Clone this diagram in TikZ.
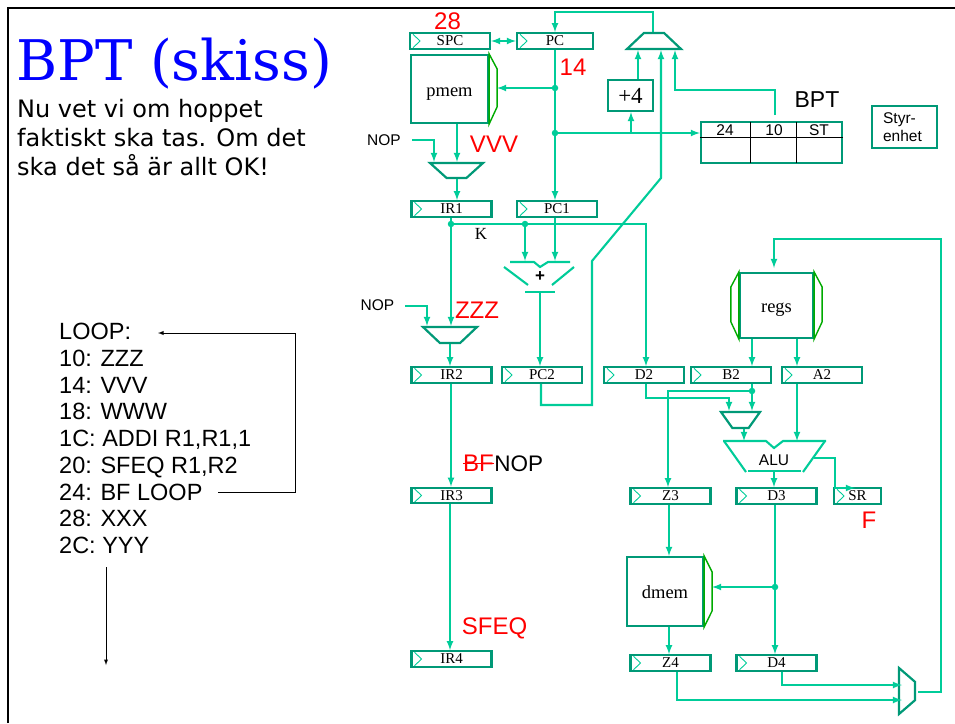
\documentclass[tikz,border=0pt]{standalone}
\usepackage{fontspec}
\setmainfont{Liberation Sans}
\newfontfamily\titlefont{DejaVu Serif}
\newfontfamily\notefont{DejaVu Sans}
\newfontfamily\regfont{Liberation Serif}
\usetikzlibrary{arrows,calc,positioning,shapes.geometric}
\definecolor{wirecol}{RGB}{0,204,153}
\definecolor{boxcol}{RGB}{0,153,119}
\definecolor{memcol}{RGB}{0,170,0}
\tikzset{%
	reg/.style      = {draw=boxcol, line width=2.2pt, rectangle, minimum width=80pt, minimum height=15.5pt, inner sep=0pt, font=\regfont\fontsize{15}{15}\selectfont,
		path picture={\draw[wirecol,line width=0.9pt] ($(path picture bounding box.north west)+(3,1)$) -- ($(path picture bounding box.west)+(10,0)$) -- ($(path picture bounding box.south west)+(3,-1)$);}}, % Register
	mem/.style      = {draw=boxcol, line width=2.2pt, rectangle, inner sep=0pt, text height=14pt, text depth=0pt, font=\regfont\fontsize{18.5}{18.5}\selectfont}, % Memory
	memedge/.style  = {draw=memcol, line width=1.4pt}, % Port
	mux/.style      = {draw=boxcol, line width=2.2pt, trapezium, trapezium stretches=true, inner sep=1pt},
	box/.style      = {draw=boxcol, line width=2.2pt, rectangle, inner sep=0pt},
	wire/.style     = {draw=wirecol, line width=2.1pt},
	arrow/.style    = {wire,-latex},
	dot/.style      = {circle, fill=wirecol, inner sep=0pt, minimum size=6.5pt},
	waypoint/.style = {coordinate},
	lbl/.style      = {inner sep=0pt, font=\fontsize{15.5}{17}\selectfont},
	redlbl/.style   = {inner sep=0pt, text=red, font=\fontsize{24}{24}\selectfont},
}
\begin{document}
\begin{tikzpicture}[x=1pt,y=-1pt]
	\useasboundingbox (0,0) rectangle (955,723);
	\draw[line width=1.8pt] (8,723) -- (8,8) -- (955,8);
	% text on the left
	\node[anchor=base west,inner sep=0pt,text=blue,font=\titlefont\fontsize{56}{56}\selectfont] (title) at (16,80) {BPT (skiss)};
	\node[anchor=north west,inner sep=0pt,align=left,font=\notefont\fontsize{24}{29}\selectfont] (note) at (17,99) {Nu vet vi om hoppet\\faktiskt ska tas. Om det\\ska det så är allt OK!};
	\node[anchor=north west,inner sep=0pt,align=left,font=\fontsize{23.5}{26.75}\selectfont] (code) at (59,323) {LOOP:\\10: ZZZ\\14: VVV\\18: WWW\\1C: ADDI R1,R1,1\\20: SFEQ R1,R2\\24: BF LOOP\\28: XXX\\2C: YYY};
	\node[waypoint] (loopto) at (158,333) {};
	\node[waypoint] (loopfrom) at (218,492) {};
	\node[waypoint] (loopcor) at (295,333) {};
	\node[waypoint] (seqfrom) at (106,567) {};
	\node[waypoint] (seqto) at (106,665) {};
	\draw[-latex,line width=0.9pt] (loopfrom) -| (loopcor) -- (loopto);
	\draw[-latex,line width=0.9pt] (seqfrom) -- (seqto);
	% registers
	\node[reg] (spc) at (450,41) {SPC};
	\node[reg,minimum width=76pt,right of=spc,node distance=105pt] (pc) {PC};
	\node[reg] (ir1) at (451.5,209) {IR1};
	\node[reg,right of=ir1,node distance=105.5pt] (pc1) {PC1};
	\node[reg,below of=ir1,node distance=166pt] (ir2) {IR2};
	\node[reg,right of=ir2,node distance=90.5pt] (pc2) {PC2};
	\node[reg,right of=pc2,node distance=102pt] (d2) {D2};
	\node[reg,right of=d2,node distance=87pt] (b2) {B2};
	\node[reg,right of=b2,node distance=91pt] (a2) {A2};
	\node[reg,below of=ir2,node distance=120.5pt] (ir3) {IR3};
	\node[reg,below of=ir3,node distance=163.5pt] (ir4) {IR4};
	\node[reg] (z3) at (670.5,496) {Z3};
	\node[reg,right of=z3,node distance=106pt] (d3) {D3};
	\node[reg,minimum width=47pt,right of=d3,node distance=81pt] (sr) {SR};
	\node[reg] (z4) at (670.5,663) {Z4};
	\node[reg,right of=z4,node distance=106pt] (d4) {D4};
	% memories
	\node[mem,minimum width=77pt,minimum height=68pt] (pmem) at (449.5,89) {pmem};
	\node[mem,minimum width=73pt,minimum height=65pt] (regs) at (776.5,305.5) {regs};
	\node[mem,minimum width=76pt,minimum height=69pt] (dmem) at (665,591.5) {dmem};
	\draw[memedge] (pmem.north east) -- ++(8,15) -- ++(0,38) -- (pmem.south east) -- cycle;
	\draw[memedge] (regs.north east) -- ++(8,15) -- ++(0,35) -- (regs.south east) -- cycle;
	\draw[memedge] (regs.north west) -- ++(-8,15) -- ++(0,35) -- (regs.south west) -- cycle;
	\draw[memedge] (dmem.north east) -- ++(8,16) -- ++(0,39) -- (dmem.south east) -- cycle;
	\coordinate (pmemport) at ($(pmem.east)+(8,0)$);
	\coordinate (dmemport) at ($(dmem.east)+(8,0)$);
	% muxes
	\node[mux,shape border rotate=180,trapezium left angle=50,trapezium right angle=50,minimum width=53pt,minimum height=15pt] (mux1) at (456.5,170.5) {};
	\node[mux,shape border rotate=180,trapezium left angle=50,trapezium right angle=50,minimum width=54pt,minimum height=16pt] (mux2) at (450,335) {};
	\node[mux,shape border rotate=180,trapezium left angle=55,trapezium right angle=55,minimum width=39pt,minimum height=16pt] (mux3) at (740.5,420) {};
	\node[mux,trapezium left angle=50,trapezium right angle=50,minimum width=54pt,minimum height=16pt] (mux0) at (654,41) {};
	\node[mux,shape border rotate=270,trapezium left angle=53,trapezium right angle=53,minimum width=46pt,minimum height=16pt] (mux4) at (907,691) {};
	% adder and alu
	\node[inner sep=0pt,font=\bfseries\fontsize{17}{17}\selectfont] (adder) at (540,277) {+};
	\draw[wire] ($(adder)+(-30,-15)$) -- ($(adder)+(-6,-15)$) -- ($(adder)+(0,-10)$) -- ($(adder)+(8,-15)$) -- ($(adder)+(30,-15)$);
	\draw[wire] ($(adder)+(-36,-10)$) -- ($(adder)+(-12,8)$);
	\draw[wire] ($(adder)+(34,-10)$) -- ($(adder)+(12,8)$);
	\draw[wire] ($(adder)+(-15,15)$) -- ($(adder)+(15,15)$);
	\node[inner sep=0pt,font=\fontsize{15.5}{15.5}\selectfont] (alu) at (774,460) {ALU};
	\draw[wire] ($(alu)+(-51,-19)$) -- ($(alu)+(-8,-19)$) -- ($(alu)+(0,-12)$) -- ($(alu)+(9,-19)$) -- ($(alu)+(52,-19)$);
	\draw[wire] ($(alu)+(-50,-19)$) -- ($(alu)+(-28,12)$);
	\draw[wire] ($(alu)+(51,-19)$) -- ($(alu)+(29,12)$);
	\draw[wire] ($(alu)+(-26,11)$) -- ($(alu)+(27,11)$);
	% small boxes
	\node[box,minimum width=45pt,minimum height=31pt,font=\regfont\fontsize{23}{23}\selectfont] (plus4) at (630.5,95.5) {+4};
	\node[box,minimum width=65pt,minimum height=42pt,align=left,font=\fontsize{15.5}{18.5}\selectfont] (styr) at (904.5,127) {Styr-\\enhet\hspace*{4pt}};
	\node[box,minimum width=141pt,minimum height=41pt] (bpt) at (771.5,142.5) {};
	\draw[line width=0.9pt] (bpt.west |- 0,137) -- (bpt.east |- 0,137);
	\draw[line width=0.9pt] (750,122) -- (750,163);
	\draw[line width=0.9pt] (796,122) -- (796,163);
	\node[lbl] (bpt24) at (725,130) {24};
	\node[lbl] (bpt10) at (774,130) {10};
	\node[lbl] (bptst) at (819,130) {ST};
	\node[lbl,font=\fontsize{23}{23}\selectfont] (bptname) at (817,100) {BPT};
	% junctions
	\node[dot] (j1) at (555,88) {};
	\node[dot] (j2) at (555,133) {};
	\node[dot] (j3) at (451,224) {};
	\node[dot] (j4) at (525,224) {};
	\node[dot] (j5) at (752,391) {};
	\node[dot] (j6) at (775,587) {};
	% upper wires
	\node[waypoint] (top1) at (653,12) {};
	\draw[arrow] (mux0.north -| top1) -- (top1) -| (pc.north);
	\draw[latex-latex,wire] (spc.east) -- (pc.west);
	\draw[wire] (pc.south) -- (j1);
	\draw[wire] (j1) -- (j2);
	\draw[arrow] (j2) -- (j2 |- pc1.north);
	\draw[arrow] (j1) -- (j1 -| pmemport);
	\draw[arrow] (j2) -- (j2 -| bpt.west);
	\draw[arrow] (j2 -| 631,0) -- (631,0 |- plus4.south);
	\draw[arrow] (638,0 |- plus4.north) -- (638,0 |- mux0.south);
	\node[waypoint] (btbout) at (775,115) {};
	\node[waypoint] (btbcor) at (675,90) {};
	\draw[arrow] (btbout) |- (btbcor) -- (btbcor |- mux0.south);
	\node[lbl,anchor=center] (nop1) at (384,140) {NOP};
	\node[waypoint] (nop1in) at (412,140) {};
	\draw[arrow] (nop1in) -| (434,0 |- mux1.north);
	\draw[arrow] (457,0 |- pmem.south) -- (457,0 |- mux1.north);
	\draw[arrow] (457,0 |- mux1.south) -- (457,0 |- ir1.north);
	% pc2 back to the mux
	\node[waypoint] (back1) at (592,405) {};
	\node[waypoint] (back2) at (592,261) {};
	\node[waypoint] (back3) at (661,178) {};
	\draw[arrow] (541,0 |- pc2.south) |- (back1) -- (back2) -- (back3) -- (back3 |- mux0.south);
	% decode
	\draw[wire] (j3 |- ir1.south) -- (j3);
	\draw[wire] (j3) -- (j4);
	\draw[arrow] (j4) -| (646,0 |- d2.north);
	\draw[arrow] (j4) -- (525,261);
	\draw[arrow] (555,0 |- pc1.south) -- (555,261);
	\draw[arrow] (540,292) -- (540,0 |- pc2.north);
	\draw[arrow] (j3) -- (j3 |- mux2.north);
	\node[lbl] (nop2) at (377.5,305) {NOP};
	\node[waypoint] (nop2in) at (405,306) {};
	\draw[arrow] (nop2in) -| (427,0 |- mux2.north);
	\draw[arrow] (450,0 |- mux2.south) -- (450,0 |- ir2.north);
	\draw[arrow] (451,0 |- ir2.south) -- (451,0 |- ir3.north);
	\draw[arrow] (450,0 |- ir3.south) -- (450,0 |- ir4.north);
	\node[inner sep=0pt,font=\regfont\fontsize{17}{17}\selectfont] (kk) at (481,234) {K};
	% execute
	\node[waypoint] (regsin) at (774,239) {};
	\node[waypoint] (wbcor) at (941,692) {};
	\draw[arrow] (918,692) -- (wbcor) -- (wbcor |- regsin) -- (regsin) -- (774,268);
	\draw[arrow] (752,0 |- regs.south) -- (752,0 |- b2.north);
	\draw[arrow] (797,0 |- regs.south) -- (797,0 |- a2.north);
	\draw[arrow] (646,0 |- d2.south) |- (729,398) -- (729,0 |- mux3.north);
	\draw[wire] (752,0 |- b2.south) -- (j5);
	\draw[arrow] (j5) -- (j5 |- mux3.north);
	\draw[arrow] (j5) -| (668,0 |- z3.north);
	\draw[arrow] (744,0 |- mux3.south) -- (744,441);
	\draw[arrow] (797,0 |- a2.south) -- (797,441);
	\draw[arrow] (774,472) -- (774,0 |- d3.north);
	\draw[arrow] (814,458) -| (835,488) -- (855,488);
	% memory and write back
	\draw[arrow] (669,0 |- z3.south) -- (669,0 |- dmem.north);
	\draw[wire] (775,0 |- d3.south) -- (j6);
	\draw[arrow] (j6) -- (j6 |- d4.north);
	\draw[arrow] (j6) -- (j6 -| dmemport);
	\draw[arrow] (669,0 |- dmem.south) -- (669,0 |- z4.north);
	\draw[arrow] (782,0 |- d4.south) |- (902,685);
	\draw[arrow] (677,0 |- z4.south) |- (902,700);
	% red labels
	\node[redlbl] (l28) at (447.5,21) {28};
	\node[redlbl] (l14) at (573,67) {14};
	\node[redlbl] (lvvv) at (494,144) {VVV};
	\node[redlbl] (lzzz) at (477,310) {ZZZ};
	\node[redlbl,anchor=base west] (lbf) at (463,471) {BF};
	\node[lbl,anchor=base west,font=\fontsize{22.5}{24}\selectfont] (lnop) at (lbf.base east) {NOP};
	\draw[red,line width=1pt] ($(lbf.west)+(0,1)$) -- ($(lbf.east)+(0,1)$);
	\node[redlbl] (lsfeq) at (494.5,628) {SFEQ};
	\node[redlbl] (lf) at (869,520) {F};
\end{tikzpicture}
\end{document}
